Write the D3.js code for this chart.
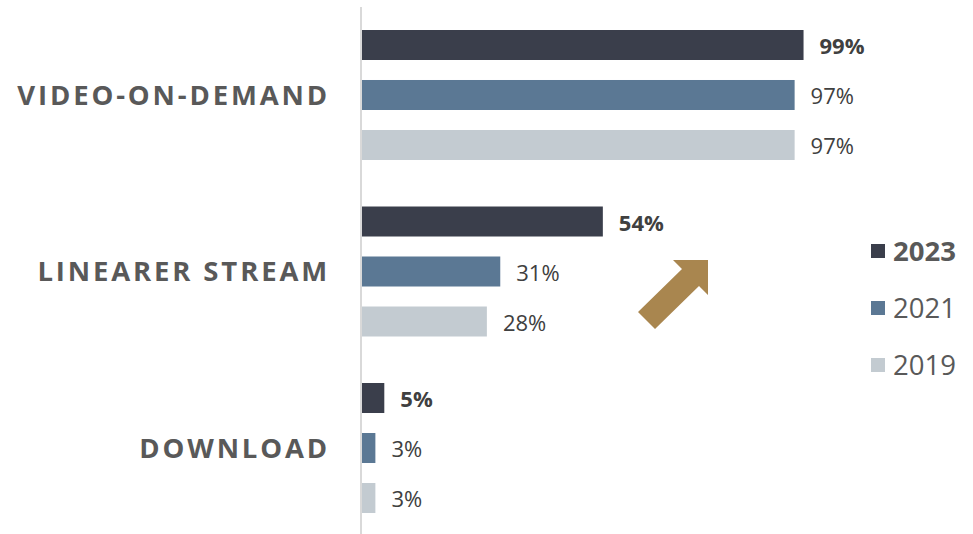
<!DOCTYPE html>
<html><head><meta charset="utf-8">
<script src="https://cdn.jsdelivr.net/npm/d3@7/dist/d3.min.js"></script>
<style>body{margin:0;background:#fff;} svg{display:block;}</style>
</head><body>
<svg id="chart" width="973" height="534"></svg>
<script>
const categories = ["VIDEO-ON-DEMAND", "LINEARER STREAM", "DOWNLOAD"];
const years = ["2023", "2021", "2019"];
const values2023 = [99, 54, 5];
const values2021 = [97, 31, 3];
const values2019 = [97, 28, 3];
const colors = ["#3a3e4b", "#5b7894", "#c3cbd1"];

const series = [values2023, values2021, values2019];
const data = [];
categories.forEach((c, i) => years.forEach((y, j) => data.push({cat: c, year: y, yi: j, value: series[j][i]})));

const svg = d3.select("#chart");
const font = "'Open Sans', 'Noto Sans', sans-serif";

const x = d3.scaleLinear().domain([0, 100]).range([362, 808]);
const yOuter = d3.scaleBand().domain(categories).range([30, 513]).paddingInner(0.2635).paddingOuter(0);
const yInner = d3.scaleBand().domain(years).range([0, yOuter.bandwidth()]).paddingInner(0.4).paddingOuter(0);

// bars
svg.append("g").selectAll("rect").data(data).join("rect")
  .attr("x", x(0))
  .attr("y", d => yOuter(d.cat) + yInner(d.year))
  .attr("width", d => x(d.value) - x(0))
  .attr("height", yInner.bandwidth())
  .attr("fill", d => colors[d.yi]);

// value labels
svg.append("g").selectAll("text").data(data).join("text")
  .attr("x", d => x(d.value) + 16)
  .attr("y", d => yOuter(d.cat) + yInner(d.year) + yInner.bandwidth() / 2)
  .attr("dy", "0.42em")
  .attr("font-family", font)
  .attr("font-size", 22)
  .attr("font-weight", d => d.yi === 0 ? 700 : 400)
  .attr("fill", "#404040")
  .text(d => d.value + "%");

// axis line
const yAxis = d3.axisLeft(yOuter).tickSize(0).tickPadding(31);
const ag = svg.append("g").attr("transform", `translate(${361},0)`).call(yAxis);
ag.select(".domain").attr("d", "M0,7V534").attr("stroke", "#d9d9d9").attr("stroke-width", 2);
ag.selectAll(".tick text")
  .attr("font-family", font)
  .attr("font-size", 27.5)
  .attr("font-weight", 700)
  .attr("fill", "#595959")
  .attr("letter-spacing", "2.85px")
  .attr("dy", "0.36em");

// arrow
const arrowPts = [[673,260],[708,260],[708,295],[699,286],[655,329],[638,312],[682,269]];
svg.append("path").attr("d", d3.line()(arrowPts) + "Z").attr("fill", "#a9864f");

// legend
const lg = svg.append("g");
const ly = d3.scalePoint().domain(years).range([251, 365]);
years.forEach((yr, j) => {
  lg.append("rect").attr("x", 871).attr("y", ly(yr) - 7).attr("width", 14).attr("height", 14).attr("fill", colors[j]);
  lg.append("text").attr("x", 893).attr("y", ly(yr)).attr("dy", "0.37em")
    .attr("font-family", font).attr("font-size", 27.5)
    .attr("font-weight", j === 0 ? 700 : 400).attr("fill", "#595959").text(yr);
});
</script>
</body></html>
